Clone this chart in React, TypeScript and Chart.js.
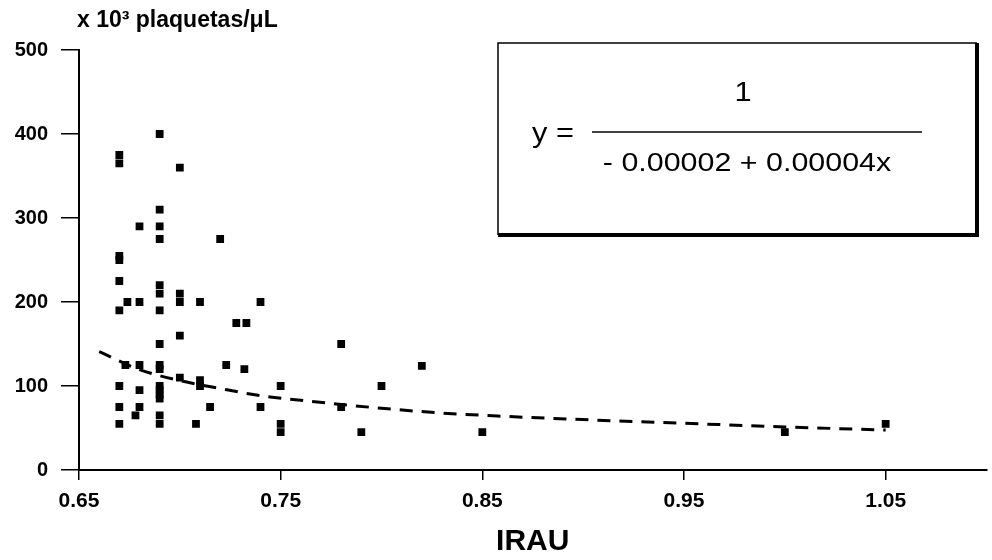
import React, { useEffect, useRef } from "react";
import { Chart, registerables } from "chart.js";

Chart.register(...registerables);

// IRAU (x) and platelets x10^3/µL (y), paired by index
const IRAU = [
  0.67, 0.67, 0.67, 0.67, 0.67, 0.67, 0.67, 0.67, 0.67,
  0.673, 0.674,
  0.68, 0.68, 0.68, 0.68, 0.68, 0.678,
  0.69, 0.69, 0.69, 0.69, 0.69, 0.69, 0.69, 0.69, 0.69, 0.69, 0.69, 0.69, 0.69, 0.69, 0.69, 0.69,
  0.70, 0.70, 0.70, 0.70, 0.70,
  0.71, 0.71, 0.71, 0.708, 0.715,
  0.72, 0.723, 0.728, 0.733, 0.732,
  0.74, 0.74,
  0.75, 0.75, 0.75,
  0.78, 0.78, 0.79, 0.80, 0.82, 0.85, 1.00, 1.05,
];
const PLAQUETAS = [
  375, 365, 255, 250, 225, 190, 100, 75, 55,
  125, 200,
  290, 200, 125, 95, 75, 65,
  400, 310, 290, 275, 220, 210, 190, 150, 125, 120, 100, 95, 90, 85, 65, 55,
  360, 210, 200, 160, 110,
  200, 107, 100, 55, 75,
  275, 125, 175, 175, 120,
  200, 75,
  100, 55, 45,
  150, 75, 45, 100, 124, 45, 45, 55,
];

// dashed fitted curve
const FIT_X = [0.66, 0.68, 0.70, 0.72, 0.74, 0.76, 0.78, 0.80, 0.83, 0.86, 0.90, 0.95, 1.00, 1.05];
const FIT_Y = [141, 119.5, 106.5, 97, 88.5, 83, 78, 73.5, 67.8, 64, 60, 55.6, 51.3, 47.5];

const X_TICKS = [0.65, 0.75, 0.85, 0.95, 1.05];
const Y_TICKS = [0, 100, 200, 300, 400, 500];

const Y_TITLE = "x 10³ plaquetas/μL";
const X_TITLE = "IRAU";
const EQ_LEFT = "y =";
const EQ_NUM = "1";
const EQ_DEN = "- 0.00002 + 0.00004x";

const FONT = "'Liberation Sans', Arial, Helvetica, sans-serif";

const overlayPlugin = {
  id: "overlay",
  afterDraw(chart: any) {
    const ctx = chart.ctx as CanvasRenderingContext2D;
    ctx.save();
    ctx.fillStyle = "#000";
    ctx.strokeStyle = "#000";
    // y-axis title (horizontal, top-left)
    ctx.font = `bold 23px ${FONT}`;
    ctx.textAlign = "left";
    ctx.textBaseline = "middle";
    ctx.fillText(Y_TITLE, 77, 21);

    // equation box
    const L = 498, T = 43, R = 977, B = 235;
    ctx.fillStyle = "#fff";
    ctx.fillRect(L, T, R - L, B - T);
    ctx.fillStyle = "#000";
    ctx.lineWidth = 1.5;
    ctx.beginPath();
    ctx.moveTo(L, B);
    ctx.lineTo(L, T);
    ctx.lineTo(R, T);
    ctx.stroke();
    ctx.lineWidth = 4;
    ctx.beginPath();
    ctx.moveTo(R, T);
    ctx.lineTo(R, B);
    ctx.lineTo(L, B);
    ctx.stroke();

    const drawStretched = (text: string, cx: number, cy: number, size: number, sx: number) => {
      ctx.save();
      ctx.translate(cx, cy);
      ctx.scale(sx, 1);
      ctx.font = `${size}px ${FONT}`;
      ctx.textAlign = "center";
      ctx.textBaseline = "middle";
      ctx.fillText(text, 0, 0);
      ctx.restore();
    };
    drawStretched(EQ_LEFT, 553, 134, 28, 1.1);
    drawStretched(EQ_NUM, 743, 93, 28, 1.1);
    drawStretched(EQ_DEN, 747, 164, 26, 1.17);
    ctx.lineWidth = 1.5;
    ctx.beginPath();
    ctx.moveTo(592, 132);
    ctx.lineTo(922, 132);
    ctx.stroke();
    ctx.restore();
  },
};

export default function App() {
  const ref = useRef<HTMLCanvasElement | null>(null);
  useEffect(() => {
    document.body.style.margin = "0";
    const canvas = ref.current;
    if (!canvas) return;
    Chart.defaults.font.family = FONT;
    const points = IRAU.map((x, i) => ({ x, y: PLAQUETAS[i] }));
    const fit = FIT_X.map((x, i) => ({ x, y: FIT_Y[i] }));
    const chart = new Chart(canvas, {
      type: "scatter",
      data: {
        datasets: [
          {
            data: fit,
            showLine: true,
            borderColor: "#000",
            borderWidth: 3,
            borderDash: [13, 9],
            pointRadius: 0,
            cubicInterpolationMode: "monotone",
            fill: false,
          } as any,
          {
            data: points,
            pointStyle: "rect",
            pointRadius: 5.5,
            backgroundColor: "#000",
            borderColor: "#000",
            borderWidth: 0,
          } as any,
        ],
      },
      options: {
        animation: false,
        responsive: false,
        devicePixelRatio: 1,
        layout: { padding: { top: 50, left: 0, right: 0, bottom: 0 } },
        plugins: { legend: { display: false }, tooltip: { enabled: false }, title: { display: false } },
        scales: {
          x: {
            type: "linear",
            min: 0.65,
            max: 1.1,
            afterBuildTicks: (s: any) => {
              s.ticks = X_TICKS.map((v) => ({ value: v }));
            },
            afterFit: (s: any) => {
              s.height = 90;
            },
            grid: { drawOnChartArea: false, drawTicks: true, tickLength: 10, color: "#000", lineWidth: 1.5 },
            border: { display: true, color: "#000", width: 2 },
            ticks: {
              color: "#000",
              font: { size: 21, weight: "bold" },
              padding: 9,
              maxRotation: 0,
              autoSkip: false,
              callback: (v: any) => Number(v).toFixed(2),
            },
            title: {
              display: true,
              text: X_TITLE,
              color: "#000",
              font: { size: 30, weight: "bold" },
              padding: { top: 0, bottom: 0 },
            },
          },
          y: {
            type: "linear",
            min: 0,
            max: 500,
            afterBuildTicks: (s: any) => {
              s.ticks = Y_TICKS.map((v) => ({ value: v }));
            },
            afterFit: (s: any) => {
              s.width = 79;
            },
            grid: { drawOnChartArea: false, drawTicks: true, tickLength: 18, color: "#000", lineWidth: 1.5 },
            border: { display: true, color: "#000", width: 2 },
            ticks: { color: "#000", font: { size: 20, weight: "bold" }, padding: 13 },
          },
        },
      } as any,
      plugins: [overlayPlugin],
    });
    return () => chart.destroy();
  }, []);
  return (
    <div style={{ position: "absolute", left: 0, top: 0, width: 992, height: 560, background: "#fff" }}>
      <canvas ref={ref} width={992} height={560} />
    </div>
  );
}
